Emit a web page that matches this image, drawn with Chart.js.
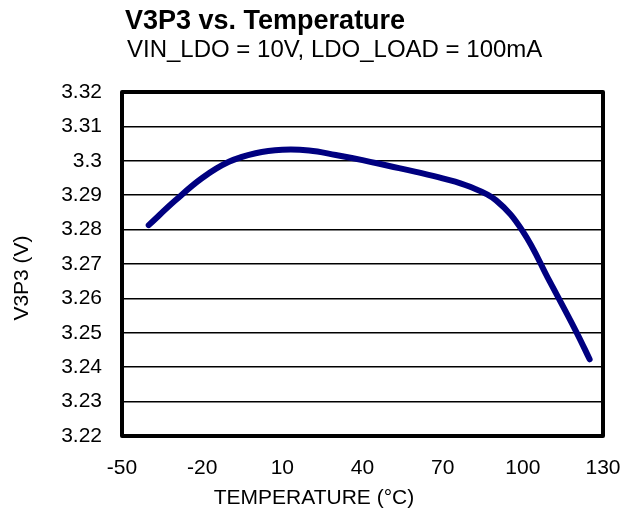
<!DOCTYPE html>
<html>
<head>
<meta charset="utf-8">
<script src="https://cdn.jsdelivr.net/npm/chart.js@4/dist/chart.umd.min.js"></script>
<style>
    html, body { margin: 0; padding: 0; background: #fff; }
    #wrap { width: 631px; height: 517px; }
</style>
</head>
<body>
<div id="wrap"><canvas id="v3p3Chart" width="631" height="517"></canvas></div>
<script>
// data
const temperatures = [-40, -30, -20, -10, 0, 10, 20, 30, 40, 50, 60, 70, 80, 90, 100, 110, 120, 125];
const v3p3 = [3.2813, 3.2885, 3.2950, 3.2997, 3.3022, 3.3032, 3.3030, 3.3017, 3.3002, 3.2985,
              3.2968, 3.2949, 3.2925, 3.2885, 3.2795, 3.2650, 3.2503, 3.2423];
const xTicks = [-50, -20, 10, 40, 70, 100, 130];
const yMin = 3.22;
const yMax = 3.32;
const yStep = 0.01;

const chartTitle = 'V3P3 vs. Temperature';
const chartSubtitle = 'VIN_LDO = 10V, LDO_LOAD = 100mA';
const xTitle = 'TEMPERATURE (°C)';
const yTitle = 'V3P3 (V)';

const FONT = '"Liberation Sans", Arial, sans-serif';

// box round the plot area + titles
const frameAndText = {
    id: 'frameAndText',
    beforeDatasetsDraw(chart) {
        const { ctx, chartArea: a } = chart;
        ctx.save();
        ctx.strokeStyle = '#000';
        ctx.lineWidth = 4;
        ctx.lineJoin = 'round';
        ctx.strokeRect(a.left, a.top, a.right - a.left, a.bottom - a.top);
        ctx.restore();
    },
    afterDraw(chart) {
        const { ctx } = chart;
        ctx.save();
        ctx.fillStyle = '#000';
        ctx.textBaseline = 'alphabetic';
        ctx.textAlign = 'left';
        ctx.font = 'bold 27px ' + FONT;
        ctx.fillText(chartTitle, 125, 29);
        ctx.font = '24px ' + FONT;
        ctx.fillText(chartSubtitle, 127, 57);

        ctx.textAlign = 'center';
        ctx.textBaseline = 'middle';
        ctx.font = '21px ' + FONT;
        ctx.fillText(xTitle, 314, 498);

        ctx.translate(22, 278);
        ctx.rotate(-Math.PI / 2);
        ctx.fillText(yTitle, 0, 0);
        ctx.restore();
    }
};

const ctx = document.getElementById('v3p3Chart').getContext('2d');
new Chart(ctx, {
    type: 'line',
    data: {
        datasets: [{
            label: 'V3P3',
            data: temperatures.map((t, i) => ({ x: t, y: v3p3[i] })),
            borderColor: '#000080',
            borderWidth: 6,
            borderCapStyle: 'round',
            borderJoinStyle: 'round',
            tension: 0.4,
            pointRadius: 0,
            fill: false
        }]
    },
    options: {
        responsive: false,
        devicePixelRatio: 1,
        animation: false,
        layout: { padding: { left: 0, right: 28, top: 92, bottom: 0 } },
        plugins: {
            legend: { display: false },
            title: { display: false },
            tooltip: { enabled: false }
        },
        scales: {
            x: {
                type: 'linear',
                min: -50,
                max: 130,
                afterBuildTicks: scale => { scale.ticks = xTicks.map(v => ({ value: v })); },
                afterFit: scale => {
                    scale.height = 81;
                    scale.paddingLeft = 0;
                    scale.paddingRight = 0;
                },
                grid: { display: false, drawTicks: false },
                border: { display: false },
                ticks: {
                    padding: 20,
                    color: '#000',
                    font: { family: FONT, size: 21 },
                    maxRotation: 0
                }
            },
            y: {
                min: yMin,
                max: yMax,
                afterFit: scale => {
                    scale.width = 122;
                    scale.paddingTop = 0;
                    scale.paddingBottom = 0;
                },
                grid: { color: '#000', lineWidth: 1.5, drawTicks: false },
                border: { display: false },
                ticks: {
                    stepSize: yStep,
                    padding: 20,
                    color: '#000',
                    font: { family: FONT, size: 21 },
                    callback: v => String(Number(v.toFixed(2)))
                }
            }
        }
    },
    plugins: [frameAndText]
});
</script>
</body>
</html>
